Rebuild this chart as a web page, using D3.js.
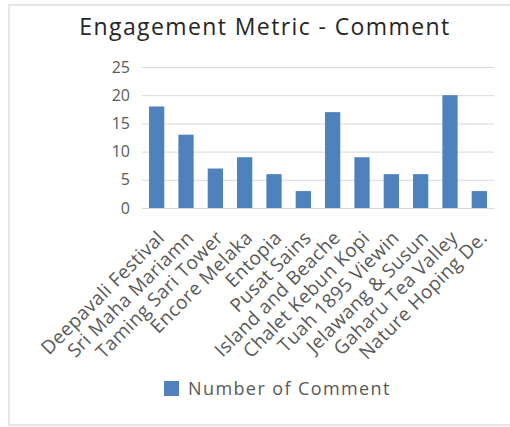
<!DOCTYPE html>
<html><head><meta charset="utf-8">
<script src="https://cdn.jsdelivr.net/npm/d3@7"></script>
<style>body{margin:0;background:#fff}svg{display:block}</style>
</head><body>
<script>
const categories = ["Deepavali Festival","Sri Maha Mariamn","Taming Sari Tower","Encore Melaka","Entopia","Pusat Sains","Island and Beache","Chalet Kebun Kopi","Tuah 1895 Viewin","Jelawang & Susun","Gaharu Tea Valley","Nature Hoping De."];
const comments = [18,13,7,9,6,3,17,9,6,6,20,3];
const yTicks = [0,5,10,15,20,25];
const seriesName = "Number of Comment";
const title = "Engagement Metric - Comment";

const W=510,H=427;
const svg=d3.select("body").append("svg").attr("width",W).attr("height",H);
const font="'Open Sans', sans-serif";
svg.append("rect").attr("x",9).attr("y",5).attr("width",W).attr("height",420)
  .attr("fill","#fff").attr("stroke","#e6e6e6").attr("stroke-width",2);

const L=142,R=494,T=67,B=208;
const x=d3.scaleBand().domain(categories).range([L,R]).paddingInner(0.48).paddingOuter(0.24);
const y=d3.scaleLinear().domain([0,25]).range([B,T]);

svg.append("text").attr("x",265).attr("y",35).attr("text-anchor","middle")
  .attr("font-family",font).attr("font-size",23).attr("letter-spacing","1.4px")
  .attr("fill","#262626").text(title);

const gy=svg.append("g").attr("transform",`translate(${L},0)`)
  .call(d3.axisLeft(y).tickValues(yTicks).tickSize(-(R-L)).tickPadding(12));
gy.select(".domain").remove();
gy.selectAll(".tick line").attr("stroke","#d9d9d9");
gy.selectAll(".tick text").attr("font-family",font).attr("font-size",16).attr("fill","#595959");

svg.selectAll("rect.bar").data(comments).join("rect").attr("class","bar")
  .attr("x",(d,i)=>x(categories[i])).attr("width",x.bandwidth())
  .attr("y",d=>y(d)).attr("height",d=>B-y(d)).attr("fill","#4f81bd");

const gx=svg.append("g").attr("transform",`translate(0,${B})`)
  .call(d3.axisBottom(x).tickSize(0).tickPadding(0));
gx.select(".domain").attr("stroke","#d9d9d9");
gx.selectAll(".tick text").attr("font-family",font).attr("font-size",19)
  .attr("letter-spacing","0.4px").attr("fill","#595959")
  .attr("text-anchor","end").attr("dy","0")
  .attr("transform","translate(9,31) rotate(-45)");

const lg=svg.append("g").attr("transform","translate(164,381)");
lg.append("rect").attr("width",15).attr("height",15).attr("fill","#4f81bd");
lg.append("text").attr("x",24).attr("y",14).attr("font-family",font).attr("font-size",18)
  .attr("letter-spacing","1.4px").attr("fill","#595959").text(seriesName);
</script>
</body></html>
